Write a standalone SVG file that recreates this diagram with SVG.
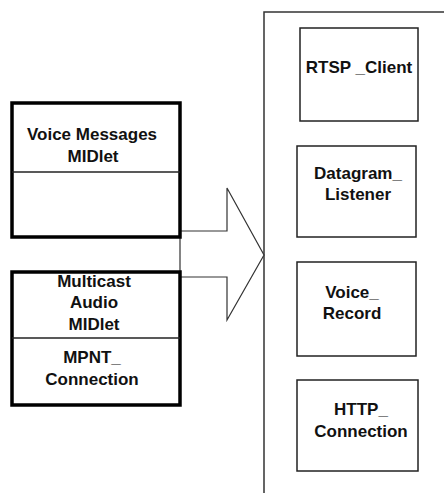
<svg xmlns="http://www.w3.org/2000/svg" width="444" height="493" viewBox="0 0 444 493">
<style>
text{font-family:"Liberation Sans",Arial,sans-serif;font-weight:bold;font-size:17px;fill:#111;text-anchor:middle}
.thick{fill:#fff;stroke:#000;stroke-width:3.5}
.thin{fill:#fff;stroke:#222;stroke-width:1.5}
.div{stroke:#222;stroke-width:1.3}
</style>
<rect width="444" height="493" fill="#fff"/>
<g id="container">
<path d="M264,493 V12 H450" fill="none" stroke="#333" stroke-width="1.5"/>
</g>
<g id="connectors">
<polygon points="180,231 227,231 227,188 264,255 227,320 227,277 180,277" fill="#fff" stroke="#333" stroke-width="1.2"/>
</g>
<g id="voice-messages-midlet">
<rect class="thick" x="12" y="103" width="168" height="134"/>
<line class="div" x1="12" y1="172" x2="180" y2="172"/>
<text x="92" y="140">Voice Messages</text>
<text x="93" y="162">MIDlet</text>
</g>
<g id="multicast-audio-midlet">
<rect class="thick" x="12" y="272" width="168" height="133"/>
<line class="div" x1="12" y1="338" x2="180" y2="338"/>
<text x="94" y="287">Multicast</text>
<text x="94" y="308">Audio</text>
<text x="94" y="330">MIDlet</text>
<text x="92" y="363">MPNT_</text>
<text x="92" y="385">Connection</text>
</g>
<g id="rtsp-client">
<rect class="thin" x="300" y="28" width="118" height="93"/>
<text x="359" y="73">RTSP _Client</text>
</g>
<g id="datagram-listener">
<rect class="thin" x="297" y="146" width="119" height="91"/>
<text x="358" y="179">Datagram_</text>
<text x="358" y="200">Listener</text>
</g>
<g id="voice-record">
<rect class="thin" x="297" y="262" width="119" height="94"/>
<text x="352" y="298">Voice_</text>
<text x="352" y="319">Record</text>
</g>
<g id="http-connection">
<rect class="thin" x="297" y="380" width="121" height="91"/>
<text x="361" y="415">HTTP_</text>
<text x="361" y="437">Connection</text>
</g>
</svg>
